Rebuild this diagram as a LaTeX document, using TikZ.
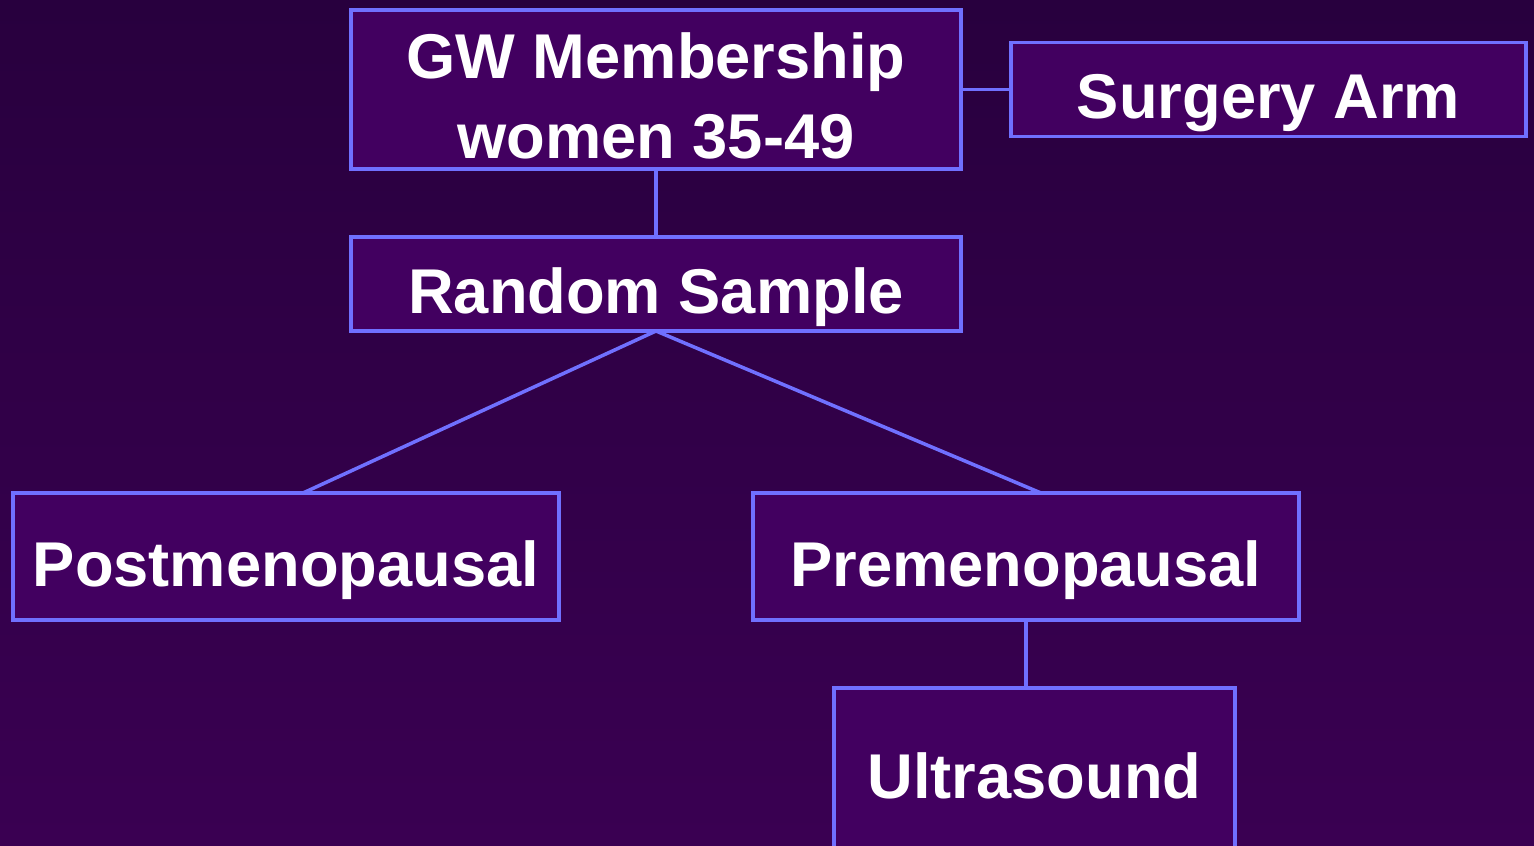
\documentclass[tikz,border=0pt]{standalone}
\usepackage{fontspec}
\setmainfont{Liberation Sans}
\usetikzlibrary{positioning,calc}
\definecolor{bgtop}{RGB}{40,0,62}
\definecolor{bgbot}{RGB}{58,0,82}
\definecolor{boxfill}{RGB}{66,0,96}
\definecolor{edge}{RGB}{112,112,255}
\tikzset{
  box/.style  ={draw=edge,line width=2pt,fill=boxfill,text=white,inner sep=0pt,outer sep=0pt,
                font=\fontsize{36}{45.5}\selectfont\bfseries,align=center},
  one/.style  ={box,text height=1.18cm,text depth=0pt},
  link/.style ={draw=edge,line width=2pt},
}
\begin{document}
\begin{tikzpicture}
  \shade[top color=bgtop,bottom color=bgbot] (0,0) rectangle (30.68,-16.92);
  \useasboundingbox (0,0) rectangle (30.68,-16.92);
  \node[box,text height=2.75cm,text depth=0pt,minimum width=12.2cm,minimum height=3.18cm] (gw) at (13.12,-1.79)
    {GW Membership\\women 35-49};
  \node[one,minimum width=10.3cm,minimum height=1.88cm] (surg) [right=1cm of gw] {Surgery Arm};
  \node[one,minimum width=12.2cm,minimum height=1.88cm] (rand) [below=1.36cm of gw] {Random Sample};
  \node[one,minimum width=10.92cm,minimum height=2.54cm] (post) at (5.72,-11.13) {Postmenopausal};
  \node[one,minimum width=10.92cm,minimum height=2.54cm] (pre) [right=3.88cm of post] {Premenopausal};
  \node[one,text height=1cm,minimum width=8.02cm,minimum height=3.4cm] (ultra) [below=1.36cm of pre,xshift=0.17cm] {Ultrasound};
  \draw[link] (gw) -- (rand);
  \draw[link] (gw) -- (surg);
  \draw[link] (rand.south) -- ($(post.north)+(0.34,0)$);
  \draw[link] (rand.south) -- ($(pre.north)+(0.3,0)$);
  \draw[link] (pre.south) -- (pre.south |- ultra.north);
\end{tikzpicture}
\end{document}
